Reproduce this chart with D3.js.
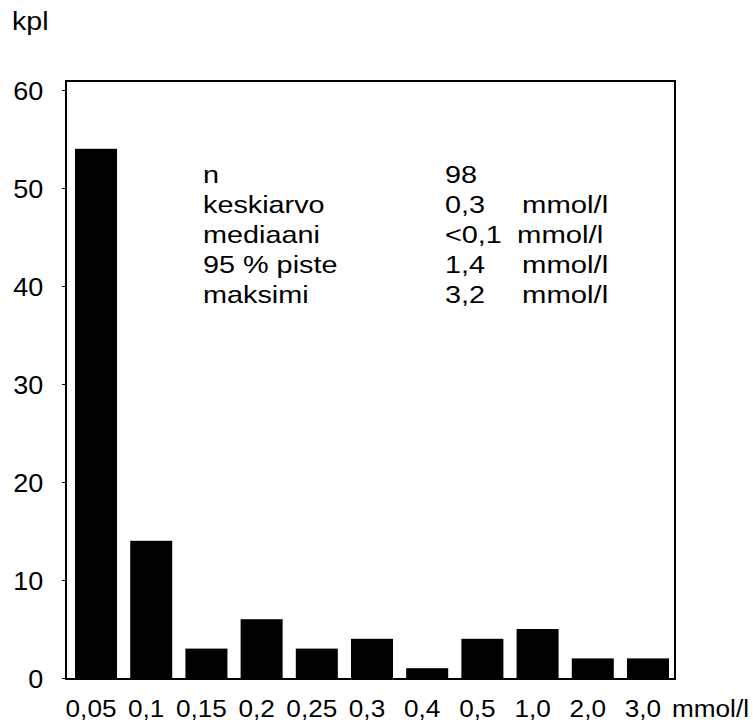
<!DOCTYPE html>
<html><head><meta charset="utf-8">
<script src="https://cdn.jsdelivr.net/npm/d3@7"></script>
<style>body{margin:0;background:#fff}svg text{font-family:"Liberation Sans",Arial,sans-serif;fill:#000}</style>
</head><body>
<svg id="c" width="753" height="723"></svg>
<script>
const categories = ["0,05","0,1","0,15","0,2","0,25","0,3","0,4","0,5","1,0","2,0","3,0"];
const counts = [54,14,3,6,3,4,1,4,5,2,2];
const yTicks = [0,10,20,30,40,50,60];
const statLabels = ["n","keskiarvo","mediaani","95 % piste","maksimi"];
const statValues = ["98","0,3","<0,1","1,4","3,2"];
const statUnits = ["","mmol/l","mmol/l","mmol/l","mmol/l"];

const svg = d3.select("#c");
const L=66, R=675, T=81, B=678;
const x = d3.scaleBand().domain(categories).range([68.4,675.6]).paddingInner(0.239).paddingOuter(0.12);
const y = d3.scaleLinear().domain([0,60]).range([B,90]);

function stretched(sel, sx){
  sel.each(function(){
    const t=d3.select(this);
    const px=+t.attr("x")||0, py=+t.attr("y")||0;
    t.attr("x",0).attr("y",0).attr("transform",`translate(${px},${py}) scale(${sx},1)`);
  });
}

// bars
svg.append("g").selectAll("rect").data(counts).join("rect")
  .attr("x",(d,i)=>x(categories[i])).attr("width",x.bandwidth())
  .attr("y",d=>y(d)).attr("height",d=>y(0)-y(d)).attr("fill","#000");

// frame
svg.append("rect").attr("x",L).attr("y",T).attr("width",R-L).attr("height",B-T+1)
  .attr("fill","none").attr("stroke","#000").attr("stroke-width",2);
svg.append("line").attr("x1",L).attr("x2",R+1).attr("y1",B+1).attr("y2",B+1).attr("stroke","#000").attr("stroke-width",2);

// y axis
const ya = svg.append("g").attr("transform",`translate(${L},0)`)
  .call(d3.axisLeft(y).tickValues(yTicks).tickSize(4).tickPadding(17).tickFormat(d3.format("d")));
ya.select(".domain").remove();
ya.selectAll("line").attr("stroke","#000");
ya.selectAll("text").attr("font-size",25).attr("dy","0.36em")
  .attr("transform","scale(1.08,1)").style("font-family","Liberation Sans, Arial, sans-serif");

// x labels
const xl = svg.append("g").selectAll("text").data(categories).join("text")
  .attr("x",d=>x(d)+x.bandwidth()/2-5).attr("y",717).attr("text-anchor","middle")
  .attr("font-size",24).text(d=>d);
stretched(xl,1.09);
stretched(svg.append("text").attr("x",672).attr("y",717).attr("font-size",24).text("mmol/l"),1.09);

// y title
stretched(svg.append("text").attr("x",12).attr("y",30).attr("font-size",26).text("kpl"),1.1);

// stats
const sy = d3.scalePoint().domain(statLabels).range([183,303]);
const sg = svg.append("g");
stretched(sg.selectAll("text.l").data(statLabels).join("text").attr("class","l")
  .attr("x",203).attr("y",d=>sy(d)).attr("font-size",24).text(d=>d),1.2);
stretched(sg.selectAll("text.v").data(statValues).join("text").attr("class","v")
  .attr("x",445).attr("y",(d,i)=>sy(statLabels[i])).attr("font-size",24).text(d=>d),1.2);
stretched(sg.selectAll("text.u").data(statUnits).join("text").attr("class","u")
  .attr("x",(d,i)=>i==2?517:522).attr("y",(d,i)=>sy(statLabels[i])).attr("font-size",24).text(d=>d),1.22);
</script>
</body></html>
